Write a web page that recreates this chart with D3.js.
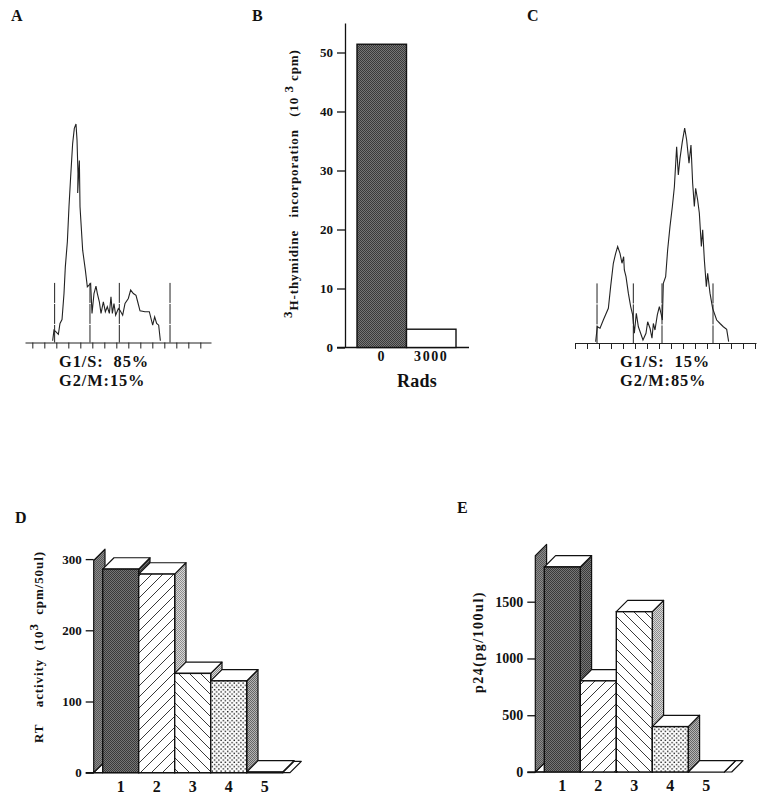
<!DOCTYPE html>
<html><head><meta charset="utf-8">
<script src="https://cdn.jsdelivr.net/npm/d3@7/dist/d3.min.js"></script>
<style>
html,body{margin:0;padding:0;background:#fff}
text{font-family:"Liberation Serif",serif;font-weight:bold;fill:#111}
</style></head><body>
<script>
// Panel A: DNA histogram (channel, count)
const traceAChannels=[4.61,4.83,5.17,5.56,5.83,6.17,6.5,6.72,7.06,7.33,7.61,7.94,8.22,8.5,8.67,8.83,8.78,9.06,9.17,9.61,10.06,10.39,10.94,11.17,11.5,11.83,12.06,12.39,12.67,13.06,13.39,13.72,14.06,14.33,14.56,14.83,15.11,15.56,15.83,16.28,16.67,17.22,17.61,18.06,18.5,18.78,19.17,20,20.72,21.28,21.61,21.94,22.28,22.56];
const traceACounts=[0.8,5.7,4.9,3.8,8.8,10.6,22.6,34.9,46.5,62.6,76.5,91.8,98.8,100.8,93.4,78,69,84,62.6,42.6,33.4,25.7,27.2,13.4,22.6,26,22.6,18.8,13.4,18.8,14.2,16.5,13.4,21.1,13.4,18,12.6,15.7,14.9,12.6,18,20.3,24.2,22.6,21.8,18.8,14.6,14.2,14.2,8,11.8,8.8,8,0.8];
const gatesA=[4.94,10.83,15.72,24.17];
const labelsA=["G1/S:  85%","G2/M:15%"];
// Panel C: DNA histogram (channel, count)
const traceCChannels=[3.44,3.72,4.17,4.72,5.56,5.94,6.39,6.78,7.11,7.5,7.83,8.11,8.22,8.5,8.89,9.28,9.61,9.89,10.22,10.56,10.94,11.33,11.83,12.11,12.5,12.83,13.06,13.33,13.72,14.06,14.39,14.56,14.72,15.11,15.44,15.83,16.22,16.56,16.94,17.22,17.5,17.89,18.28,18.61,19,19.33,19.61,19.89,20.11,20.44,20.72,21.06,21.28,21.56,21.89,22.11,22.5,22.94,23.61,24.17,24.72,25.28,25.61];
const traceCCounts=[0.6,7.5,6.8,10.6,16,26,36.8,41.4,44.5,41.4,36.8,39.8,33.7,30.6,23,16.8,13,4.5,13.7,7.5,4.5,1.4,4.5,9.8,6.8,2.2,9,6,13,16.8,13,10.6,27.5,30.6,42.9,53.7,62.9,72,90.6,77.5,85.2,92.9,99.2,93.7,83,91.4,73.7,63,71.4,66,60,44.5,52.2,38.3,26,32.2,23,16,10.6,9,7.5,6.3,0.6];
const gatesC=[3.67,9.72,14.5,23];
const labelsC=["G1/S:  15%","G2/M:85%"];
// Panel B
const radsCategories=["0","3000"];
const radsValues=[51.4,3.1];
const radsTicks=[0,10,20,30,40,50];
// Panel D and E
const sampleCategories=["1","2","3","4","5"];
const rtValues=[286,279,139.5,129,1];
const rtTicks=[0,100,200,300];
const p24Values=[1806,803,1412,400,0];
const p24Ticks=[0,500,1000,1500];

const W=774,H=803;
const svg=d3.select("body").append("svg").attr("width",W).attr("height",H).style("display","block");
svg.append("rect").attr("width",W).attr("height",H).attr("fill","#fff");
const defs=svg.append("defs");

function pat(id,size,bg,draw){
  const p=defs.append("pattern").attr("id",id).attr("patternUnits","userSpaceOnUse").attr("width",size).attr("height",size);
  p.append("rect").attr("width",size).attr("height",size).attr("fill",bg);
  draw(p);
}
const cell=(p,x,y,s,c)=>p.append("rect").attr("x",x).attr("y",y).attr("width",s).attr("height",s).attr("fill",c);
pat("dark",2,"#767676",p=>{cell(p,0,0,1,"#3a3a3a");cell(p,1,1,1,"#3a3a3a");});
pat("wall",2,"#8c8c8c",p=>{cell(p,0,0,1,"#565656");cell(p,1,1,1,"#565656");});
pat("mid",2,"#b4b4b4",p=>{cell(p,0,0,1,"#666");cell(p,1,1,1,"#666");});
pat("light",2,"#d8d8d8",p=>{cell(p,0,0,1,"#8c8c8c");cell(p,1,1,1,"#8c8c8c");});
pat("up",11,"#fff",p=>p.append("path").attr("d","M-1,12L12,-1M-1,1L1,-1M10,12L12,10").attr("stroke","#222").attr("stroke-width",.9));
pat("down",11,"#fff",p=>p.append("path").attr("d","M-1,-1L12,12M-1,10L1,12M10,-1L12,1").attr("stroke","#222").attr("stroke-width",.9));
pat("dots",4.4,"#fff",p=>{
  p.append("rect").attr("x",.4).attr("y",.4).attr("width",1.4).attr("height",1.4).attr("fill","#222");
  p.append("rect").attr("x",2.6).attr("y",2.6).attr("width",1.4).attr("height",1.4).attr("fill","#222");
});

function panelLetter(t,x,y){svg.append("text").attr("x",x).attr("y",y).attr("font-size",16).text(t);}

function histogram(o){
  const g=svg.append("g");
  const x=d3.scaleLinear().domain(o.domain).range([o.x0,o.x0+(o.domain[1]-o.domain[0])*6]);
  const y=d3.scaleLinear().domain([0,100]).range([o.base,o.base-216.7]);
  g.append("g").attr("transform",`translate(0,${o.base})`)
    .call(d3.axisBottom(x).tickValues(o.ticks).tickSize(6).tickSizeOuter(0).tickFormat(""))
    .call(s=>s.selectAll("path,line").attr("stroke","#222").attr("stroke-width",1));
  g.selectAll(".gate").data(o.gates).join("line")
    .attr("x1",d=>x(d)).attr("x2",d=>x(d)).attr("y1",y(27.5)).attr("y2",y(0))
    .attr("stroke","#222").attr("stroke-width",1).attr("stroke-dasharray","20 1");
  const pts=d3.zip(o.chans,o.counts);
  g.append("path").attr("d",d3.line().x(d=>x(d[0])).y(d=>y(d[1]))(pts))
    .attr("fill","none").attr("stroke","#222").attr("stroke-width",1.1);
  o.labels.forEach((t,i)=>{
    g.append("text").attr("x",o.textX).attr("y",[o.textY,o.textY+19][i])
      .attr("font-size",16.4).style("white-space","pre").style("letter-spacing","0.9px").text(t);
  });
}
histogram({domain:[0,31],x0:25,base:342.5,ticks:d3.range(1.22,30,2),gates:gatesA,chans:traceAChannels,counts:traceACounts,labels:labelsA,textX:59,textY:366.5});
histogram({domain:[0,30.17],x0:575,base:343,ticks:d3.range(0,31,2),gates:gatesC,chans:traceCChannels,counts:traceCCounts,labels:labelsC,textX:620,textY:366.5});
panelLetter("A",11,21);panelLetter("B",252,21);panelLetter("C",527,21);panelLetter("D",15,523);panelLetter("E",457,513);

// Panel B
(function(){
  const g=svg.append("g");
  const y=d3.scaleLinear().domain([0,55]).range([347.5,23]);
  const x=d3.scaleBand().domain(radsCategories).range([357,456]);
  g.append("line").attr("x1",337).attr("x2",469).attr("y1",y(0)).attr("y2",y(0)).attr("stroke","#111").attr("stroke-width",1.4);
  const ya=g.append("g").attr("transform","translate(345,0)")
    .call(d3.axisLeft(y).tickValues(radsTicks).tickSize(8).tickSizeOuter(0).tickPadding(4));
  ya.selectAll("path,line").attr("stroke","#111").attr("stroke-width",1.3);
  ya.selectAll("text").attr("font-size",13).attr("font-family","Liberation Serif");
  g.selectAll(".b").data(radsValues).join("rect")
    .attr("x",(d,i)=>x(radsCategories[i])).attr("width",x.bandwidth())
    .attr("y",d=>y(d)).attr("height",d=>y(0)-y(d))
    .attr("fill",(d,i)=>i?"#fff":"url(#dark)").attr("stroke","#111").attr("stroke-width",1.4);
  const xa=g.append("g").attr("transform",`translate(0,${y(0)})`)
    .call(d3.axisBottom(x).tickSize(0).tickPadding(4));
  xa.select("path").remove();
  xa.selectAll("text").attr("font-size",14).attr("font-family","Liberation Serif").style("letter-spacing","1.6px");
  g.append("text").attr("x",417).attr("y",387).attr("text-anchor","middle").attr("font-size",18).style("letter-spacing","0.3px").text("Rads");
  const t=g.append("text").attr("transform","translate(298,318) rotate(-90)").attr("font-size",13).style("white-space","pre").style("letter-spacing","0.9px");
  t.append("tspan").attr("dy",-6).attr("font-size",13).text("3");
  t.append("tspan").attr("dy",6).text("H-thymidine   incorporation   (10");
  t.append("tspan").attr("dy",-5).attr("font-size",13).text(" 3 ");
  t.append("tspan").attr("dy",5).text("cpm)");
})();

// Panels D and E
const frontFills=["url(#dark)","url(#up)","url(#down)","url(#dots)","url(#dark)"];
function bars3d(o){
  const g=svg.append("g");
  const y=d3.scaleLinear().domain([0,o.yMax]).range([o.zero,o.zero-o.yPx]);
  const x=d3.scaleBand().domain(sampleCategories).range([o.x0,o.x0+180]);
  const dx=11.3,dy=11.3;
  const poly=(pts,fill,sw=1.2)=>g.append("polygon").attr("points",pts.map(p=>p.join(",")).join(" "))
    .attr("fill",fill).attr("stroke","#111").attr("stroke-width",sw).attr("stroke-linejoin","round");
  // floor and back wall
  const fl=o.x0-9,fr=o.floorRight;
  poly([[fl,o.zero],[fl+dx,o.zero-dy],[fr+dx,o.zero-dy],[fr,o.zero]],"#fff");
  poly([[fl,o.zero],[fl,y(o.wallTop)],[fl+dx,y(o.wallTop)-dy],[fl+dx,o.zero-dy]],"url(#wall)");
  o.values.forEach((v,i)=>{
    const a=x(sampleCategories[i]),b=a+x.bandwidth(),t=y(v),z=y(0);
    poly([[b,z],[b,t],[b+dx,t-dy],[b+dx,z-dy]],o.sides[i]);
    poly([[a,t],[a+dx,t-dy],[b+dx,t-dy],[b,t]],"#fff");
    g.append("rect").attr("x",a).attr("y",t).attr("width",b-a).attr("height",z-t)
      .attr("fill",frontFills[i]).attr("stroke","#111").attr("stroke-width",1.4);
  });
  g.append("line").attr("x1",o.x0-17).attr("x2",o.x0).attr("y1",o.zero).attr("y2",o.zero).attr("stroke","#111").attr("stroke-width",1.4);
  const ya=g.append("g").attr("transform",`translate(${o.x0-9},0)`)
    .call(d3.axisLeft(y).tickValues(o.ticks).tickSize(8).tickSizeOuter(0).tickPadding(4).tickFormat(d3.format("d")));
  ya.select("path").remove();
  ya.selectAll("line").attr("stroke","#111").attr("stroke-width",1.3);
  ya.selectAll("text").attr("font-size",o.tickFont).attr("font-family","Liberation Serif");
  const xa=g.append("g").attr("transform",`translate(0,${o.zero})`)
    .call(d3.axisBottom(x).tickSize(0).tickPadding(8));
  xa.select("path").remove();
  xa.selectAll("text").attr("font-size",16).attr("font-family","Liberation Serif");
  return g;
}
const dG=bars3d({values:rtValues,ticks:rtTicks,yMax:300,yPx:213.6,zero:772.7,x0:102.7,floorRight:290,wallTop:298,tickFont:13,
  sides:["url(#dark)","url(#light)","url(#light)","url(#mid)","url(#dark)"]});
const dT=dG.append("text").attr("transform","translate(43,743) rotate(-90)").attr("font-size",13).style("white-space","pre").style("letter-spacing","0.9px");
dT.append("tspan").text("RT    activity  (10");
dT.append("tspan").attr("dy",-5).attr("font-size",13).text("3");
dT.append("tspan").attr("dy",5).text("  cpm/50ul)");

const eG=bars3d({values:p24Values,ticks:p24Ticks,yMax:1500,yPx:170.3,zero:772,x0:544.3,floorRight:731.7,wallTop:1905,tickFont:14,
  sides:["url(#dark)","url(#light)","url(#light)","url(#mid)","url(#dark)"]});
eG.append("text").attr("transform","translate(483,693) rotate(-90)").attr("font-size",14).style("letter-spacing","1.5px").text("p24(pg/100ul)");
</script>
</body></html>
